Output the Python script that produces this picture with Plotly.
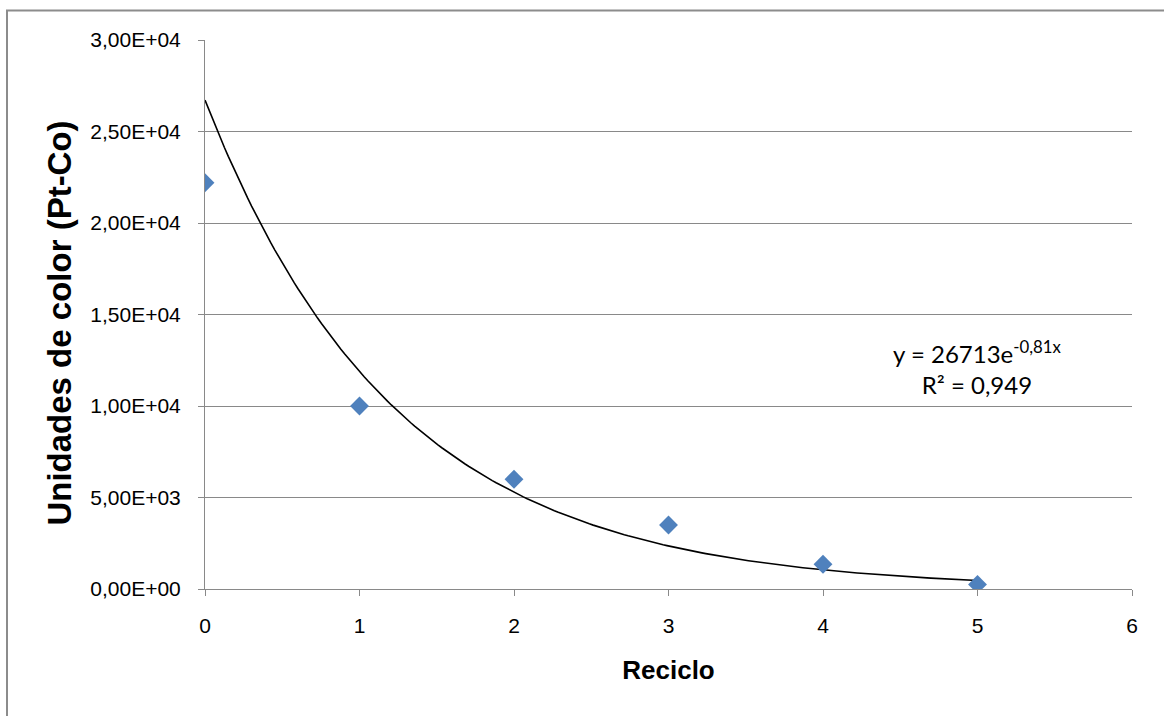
import numpy as np
import plotly.graph_objects as go

# Measured colour units per recycle step
reciclo = [0, 1, 2, 3, 4, 5]
unidades_color = [22200, 10000, 6000, 3500, 1350, 250]

# Exponential trendline fitted to the series: y = A * exp(k x)
trend_a = 26713
trend_k = -0.81
trend_r2 = "0,949"

y_ticks = [0, 5000, 10000, 15000, 20000, 25000, 30000]
y_tick_labels = ["0,00E+00", "5,00E+03", "1,00E+04", "1,50E+04",
                 "2,00E+04", "2,50E+04", "3,00E+04"]
x_ticks = [0, 1, 2, 3, 4, 5, 6]

grid_gray = "#898989"
sans = "Liberation Sans"

# plot-area geometry in pixels
W, H = 1164, 716
ML, MR, MT, MB = 205, 32, 39.5, 126.7
PW, PH = W - ML - MR, H - MT - MB

x_fit = np.linspace(min(reciclo), max(reciclo), 200)
y_fit = trend_a * np.exp(trend_k * x_fit)

fig = go.Figure()
fig.add_trace(go.Scatter(
    x=x_fit, y=y_fit, mode="lines",
    line=dict(color="black", width=1.6),
    hoverinfo="skip", showlegend=False,
))
fig.add_trace(go.Scatter(
    x=reciclo, y=unidades_color, mode="markers",
    marker=dict(symbol="diamond", size=14.5, color="#4F81BD",
                line=dict(width=0)),
    showlegend=False,
))

fig.add_annotation(
    xref="x", yref="y", x=5.0, y=12100,
    text=f"y = {trend_a}e<sup>{str(trend_k).replace('.', ',')}x</sup><br>R² = {trend_r2}",
    showarrow=False, align="center",
    font=dict(family="Lato", size=24, color="black"),
)

# vertical axis title
fig.add_annotation(
    xref="paper", yref="paper",
    x=(59.5 - ML) / PW, y=(H - MB - 323) / PH,
    xanchor="center", yanchor="middle",
    text="<b>Unidades de color (Pt-Co)</b>", textangle=-90, showarrow=False,
    font=dict(family=sans, size=33, color="black"),
)

# outer chart frame (only top and left edges fall inside the canvas)
fig.add_shape(
    type="rect", xref="paper", yref="paper",
    x0=(7 - ML) / PW, x1=1.2, y0=-0.4, y1=(H - MB - 10) / PH,
    line=dict(color="#8c8c8c", width=2), layer="below",
)

fig.update_layout(
    width=W, height=H,
    margin=dict(l=ML, r=MR, t=MT, b=MB),
    paper_bgcolor="white", plot_bgcolor="white",
    font=dict(family=sans, color="black", size=21),
    xaxis=dict(
        range=[0, 6], tickvals=x_ticks, ticks="outside", ticklen=6,
        tickcolor=grid_gray, showgrid=False, zeroline=False,
        showline=True, linecolor=grid_gray, linewidth=1,
        tickfont=dict(family=sans, size=21, color="black"), ticklabelstandoff=12,
        title=dict(text="<b>Reciclo</b>", font=dict(family=sans, size=26, color="black"),
                   standoff=24),
    ),
    yaxis=dict(
        range=[0, 30000], tickvals=y_ticks, ticktext=y_tick_labels,
        ticks="outside", ticklen=6, tickcolor=grid_gray,
        showgrid=True, gridcolor=grid_gray, gridwidth=1, zeroline=False,
        showline=True, linecolor=grid_gray, linewidth=1,
        tickfont=dict(family=sans, size=21, color="black"), ticklabelstandoff=13,
    ),
)

fig.write_html("out.html")
